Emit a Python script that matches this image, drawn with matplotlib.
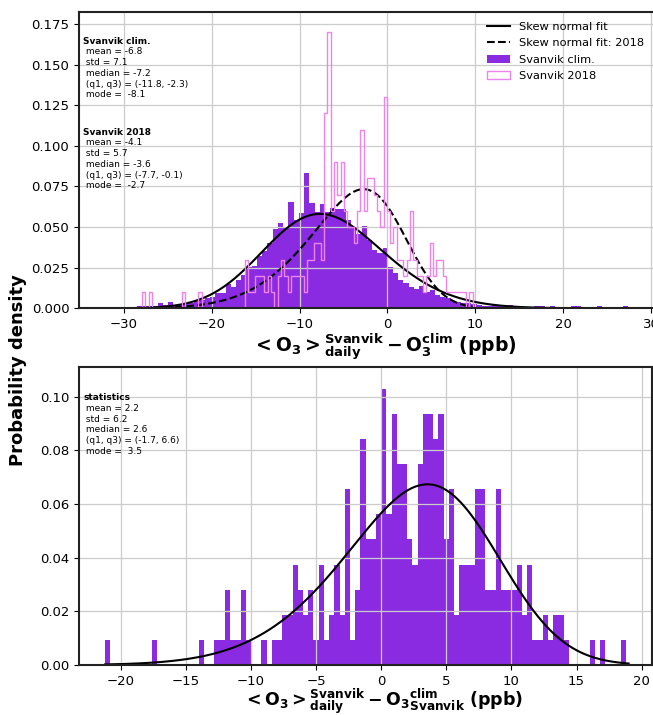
import math
import numpy as np
import matplotlib
matplotlib.use("Agg")
import matplotlib.pyplot as plt

# --- top panel: daily Svanvik O3 minus climatology ---------------------
# climatology histogram: 100 bins, read off as densities
clim_lo, clim_hi = -32.1, 27.4
clim_density = [
    0.0005, 0.0, 0.0, 0.0, 0.0003, 0.001, 0.0012, 0.0012, 0.0015, 0.0012,
    0.003, 0.0018, 0.0037, 0.0022, 0.0025, 0.003, 0.0035, 0.0042, 0.0052, 0.0062,
    0.0068, 0.0092, 0.0096, 0.015, 0.013, 0.0174, 0.0205, 0.0253, 0.026, 0.0322,
    0.035, 0.040, 0.049, 0.0525, 0.050, 0.0657, 0.0544, 0.0585, 0.083, 0.065,
    0.0595, 0.0642, 0.0595, 0.0616, 0.061, 0.061, 0.0544, 0.0495, 0.046, 0.0507,
    0.042, 0.036, 0.034, 0.0373, 0.0256, 0.0216, 0.0174, 0.0154, 0.0133, 0.012,
    0.014, 0.0102, 0.011, 0.0085, 0.007, 0.0065, 0.0045, 0.004, 0.003, 0.0035,
    0.0025, 0.002, 0.0015, 0.0015, 0.0022, 0.002, 0.0008, 0.002, 0.0008, 0.0005,
    0.0005, 0.0008, 0.0015, 0.0012, 0.0005, 0.0012, 0.0005, 0.0003, 0.0005, 0.0012,
    0.0012, 0.0003, 0.0003, 0.0005, 0.0012, 0.0003, 0.0003, 0.0, 0.0003, 0.0012,
]

# 2018 histogram: 100 bins, counts of days
y18_lo, y18_hi = -27.9, 9.7
y18_counts = [
    1, 0, 1, 0, 0, 0, 0, 0, 0, 0,
    0, 0, 1, 0, 0, 0, 0, 1, 0, 0,
    0, 0, 0, 0, 0, 0, 0, 0, 0, 0,
    0, 3, 1, 1, 2, 2, 2, 1, 2, 1,
    0, 2, 3, 2, 1, 2, 2, 2, 2, 1,
    3, 3, 4, 4, 3, 12, 17, 6, 9, 7,
    9, 6, 5, 5, 4, 6, 11, 6, 8, 8,
    7, 6, 5, 13, 6, 4, 5, 3, 3, 2,
    3, 6, 3, 2, 2, 1, 2, 4, 2, 3,
    3, 2, 1, 1, 1, 1, 1, 1, 0, 1,
]

# --- bottom panel: 2018 anomaly ---------------------------------------
anom_lo, anom_hi = -21.2, 18.8
anom_counts = [
    1, 0, 0, 0, 0, 0, 0, 0, 0, 1,
    0, 0, 0, 0, 0, 0, 0, 0, 1, 0,
    0, 1, 1, 3, 1, 1, 3, 1, 0, 0,
    1, 0, 1, 1, 2, 2, 4, 3, 2, 3,
    1, 4, 1, 2, 4, 2, 7, 1, 3, 9,
    5, 5, 6, 11, 6, 10, 8, 8, 5, 4,
    8, 10, 10, 9, 10, 5, 7, 2, 4, 4,
    4, 7, 7, 3, 3, 7, 3, 3, 3, 4,
    2, 4, 1, 1, 2, 1, 2, 2, 1, 0,
    0, 0, 0, 1, 0, 1, 0, 0, 0, 1,
]

# skew normal fit parameters (shape, loc, scale)
fit_clim = (1.3, -12.5, 9.0)
fit_2018 = (-2.2, 1.6, 8.3)
fit_anom = (-1.7, 8.1, 8.4)

stats_clim = " mean = -6.8\n std = 7.1\n median = -7.2\n (q1, q3) = (-11.8, -2.3)\n mode =  -8.1"
stats_2018 = " mean = -4.1\n std = 5.7\n median = -3.6\n (q1, q3) = (-7.7, -0.1)\n mode =  -2.7"
stats_anom = " mean = 2.2\n std = 6.2\n median = 2.6\n (q1, q3) = (-1.7, 6.6)\n mode =  3.5"


def skewnorm_pdf(x, a, loc, scale):
    z = (x - loc) / scale
    phi = np.exp(-0.5 * z**2) / np.sqrt(2 * np.pi)
    Phi = 0.5 * (1 + np.vectorize(math.erf)(a * z / np.sqrt(2)))
    return 2.0 / scale * phi * Phi


def edges_centers(lo, hi, n):
    e = np.linspace(lo, hi, n + 1)
    return e, 0.5 * (e[1:] + e[:-1])


plt.rcParams['axes.linewidth'] = 1.5
plt.rcParams['axes.edgecolor'] = '#222222'
plt.rcParams['xtick.labelsize'] = 9.5
plt.rcParams['ytick.labelsize'] = 9.5

fig = plt.figure(figsize=(6.53, 7.15), dpi=100)
ax1 = fig.add_axes([0.121, 0.5688, 0.8815, 0.4148])
ax2 = fig.add_axes([0.121, 0.0699, 0.8776, 0.4164])

# top panel
e_c, c_c = edges_centers(clim_lo, clim_hi, len(clim_density))
e_18, c_18 = edges_centers(y18_lo, y18_hi, len(y18_counts))

xc = np.linspace(clim_lo, clim_hi, 300)
x18 = np.linspace(y18_lo, y18_hi, 300)
ax1.plot(xc, skewnorm_pdf(xc, *fit_clim), color='k', lw=1.5, label='Skew normal fit')
ax1.plot(x18, skewnorm_pdf(x18, *fit_2018), color='k', lw=1.5, ls='--',
         label='Skew normal fit: 2018')
ax1.hist(c_c, bins=e_c, weights=clim_density, color='blueviolet', label='Svanvik clim.')
ax1.hist(c_18, bins=e_18, weights=y18_counts, density=True, histtype='step',
         color='violet', lw=1, label='Svanvik 2018')

ax1.set_xlim(-35.08, 30.38)
ax1.set_ylim(0, 0.1826)
ax1.set_yticks(np.arange(0, 0.176, 0.025))
ax1.grid(True, color='#cccccc', lw=0.9)
ax1.legend(loc='upper right', frameon=False, fontsize=8.2, labelspacing=0.55)
ax1.set_xlabel(r'$\mathbf{<O_3>^{Svanvik}_{daily} - O_3^{clim}\ (ppb)}$',
               fontsize=13.5, labelpad=0)
ax1.xaxis.label.set_x(0.53)

ax1.text(0.007, 0.9, 'Svanvik clim.', transform=ax1.transAxes, fontsize=6.5,
         fontweight='bold', va='center')
ax1.text(0.007, 0.88, stats_clim, transform=ax1.transAxes, fontsize=6.5, va='top',
         linespacing=1.25)
ax1.text(0.007, 0.593, 'Svanvik 2018', transform=ax1.transAxes, fontsize=6.5,
         fontweight='bold', va='center')
ax1.text(0.007, 0.573, stats_2018, transform=ax1.transAxes, fontsize=6.5, va='top',
         linespacing=1.25)

# bottom panel
e_a, c_a = edges_centers(anom_lo, anom_hi, len(anom_counts))
xa = np.linspace(anom_lo, anom_hi + 0.2, 300)
ax2.plot(xa, skewnorm_pdf(xa, *fit_anom), color='k', lw=1.5)
ax2.hist(c_a, bins=e_a, weights=anom_counts, density=True, color='blueviolet')
ax2.set_xlim(-23.2, 20.8)
ax2.set_ylim(0, 0.111)
ax2.grid(True, color='#cccccc', lw=0.9)
ax2.set_xlabel(r'$\mathbf{<O_3>^{Svanvik}_{daily} - O_3{}^{clim}_{Svanvik}\ (ppb)}$',
               fontsize=12.5, labelpad=-0.5)
ax2.xaxis.label.set_x(0.53)
ax2.text(0.007, 0.897, 'statistics', transform=ax2.transAxes, fontsize=6.5,
         fontweight='bold', va='center')
ax2.text(0.007, 0.877, stats_anom, transform=ax2.transAxes, fontsize=6.5, va='top',
         linespacing=1.25)

fig.text(0.027, 0.482, 'Probability density', rotation=90, fontsize=13,
         fontweight='bold', ha='center', va='center')

fig.savefig('out.png', dpi=100)
